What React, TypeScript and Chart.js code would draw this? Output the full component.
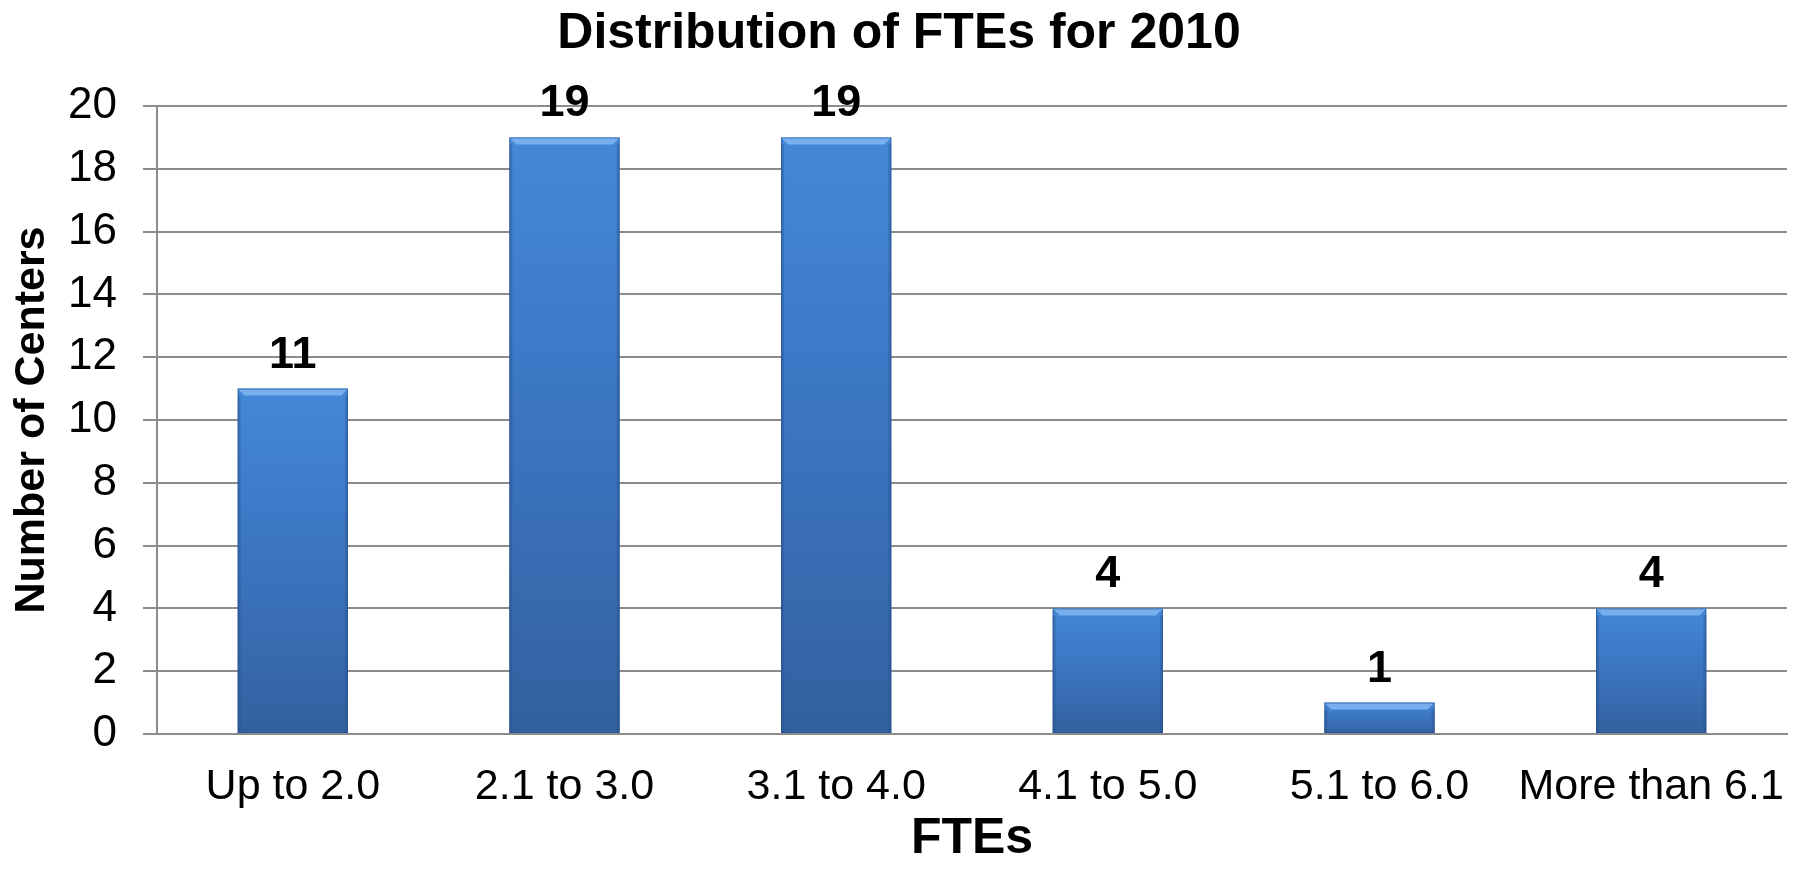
import React, { useEffect, useRef } from "react";
import { Chart, registerables } from "chart.js";

Chart.register(...registerables);

const categories = ["Up to 2.0", "2.1 to 3.0", "3.1 to 4.0", "4.1 to 5.0", "5.1 to 6.0", "More than 6.1"];
const centers = [11, 19, 19, 4, 1, 4];
const yTicks = [0, 2, 4, 6, 8, 10, 12, 14, 16, 18, 20];

const FONT = "'Liberation Sans', Arial, sans-serif";

const barStyle = {
  id: "barStyle",
  afterDatasetsDraw(chart: any) {
    const ctx = chart.ctx;
    const meta = chart.getDatasetMeta(0);
    ctx.save();
    meta.data.forEach((bar: any, i: number) => {
      const { x, y, base, width } = bar.getProps(["x", "y", "base", "width"], true);
      const l = x - width / 2;
      const r = x + width / 2;
      const b = 7;
      // top bevel
      ctx.fillStyle = "rgba(125,180,242,0.9)";
      ctx.beginPath();
      ctx.moveTo(l, y);
      ctx.lineTo(r, y);
      ctx.lineTo(r - b, y + b);
      ctx.lineTo(l + b, y + b);
      ctx.closePath();
      ctx.fill();
      // side edges
      ctx.fillStyle = "rgba(40,80,140,0.35)";
      ctx.fillRect(l, y + b, 3, base - y - b);
      ctx.fillRect(r - 3, y + b, 3, base - y - b);
      // outline
      ctx.strokeStyle = "rgba(40,80,140,0.6)";
      ctx.lineWidth = 1;
      ctx.strokeRect(l + 0.5, y + 0.5, width - 1, base - y - 1);
      // value label
      ctx.fillStyle = "#000";
      ctx.font = `bold 45px ${FONT}`;
      ctx.textAlign = "center";
      ctx.textBaseline = "alphabetic";
      ctx.fillText(String(centers[i]), x, y - 21);
    });
    ctx.restore();
  },
};

export default function App() {
  const ref = useRef<HTMLCanvasElement | null>(null);

  useEffect(() => {
    document.body.style.margin = "0";
    const canvas = ref.current;
    if (!canvas) return;
    const chart = new Chart(canvas, {
      type: "bar",
      data: {
        labels: categories,
        datasets: [
          {
            data: centers,
            backgroundColor: (c: any) => {
              const ch = c.chart;
              const area = ch.chartArea;
              const ys = ch.scales && ch.scales.y;
              if (!area || !ys || c.raw == null) return "#3d77c2";
              const top = ys.getPixelForValue(c.raw);
              const bottom = ys.getPixelForValue(0);
              if (!isFinite(top) || !isFinite(bottom) || bottom - top < 1) return "#3d77c2";
              const g = ch.ctx.createLinearGradient(0, top, 0, bottom);
              g.addColorStop(0, "#4488d8");
              g.addColorStop(0.5, "#3b74c0");
              g.addColorStop(1, "#33619f");
              return g;
            },
            borderWidth: 0,
            barPercentage: 0.406,
            categoryPercentage: 1,
          },
        ],
      },
      options: {
        responsive: true,
        maintainAspectRatio: false,
        animation: false,
        layout: { padding: { left: 0, right: 14, top: 0, bottom: 0 } },
        plugins: {
          legend: { display: false },
          tooltip: { enabled: false },
          title: {
            display: true,
            text: "Distribution of FTEs for 2010",
            color: "#000",
            font: { family: FONT, size: 50, weight: "bold", lineHeight: 1.2 },
            padding: { top: 4, bottom: 42 },
          },
        },
        scales: {
          x: {
            grid: { display: false, drawTicks: false },
            border: { display: true, color: "#8c8c8c", width: 2 },
            ticks: {
              color: "#000",
              font: { family: FONT, size: 43, lineHeight: 1.2 },
              padding: 27,
              maxRotation: 0,
              autoSkip: false,
            },
            title: {
              display: true,
              text: "FTEs",
              color: "#000",
              font: { family: FONT, size: 50, weight: "bold", lineHeight: 1.2 },
              padding: { top: 0, bottom: 0 },
            },
            afterFit: (s: any) => {
              s.height = 135;
            },
          },
          y: {
            min: 0,
            max: 20,
            afterBuildTicks: (s: any) => {
              s.ticks = yTicks.map((v) => ({ value: v }));
            },
            grid: { color: "#8c8c8c", lineWidth: 2, tickLength: 14, drawTicks: true },
            border: { display: true, color: "#8c8c8c", width: 2 },
            ticks: {
              color: "#000",
              font: { family: FONT, size: 44 },
              padding: 26,
            },
            title: {
              display: true,
              text: "Number of Centers",
              color: "#000",
              font: { family: FONT, size: 43, weight: "bold", lineHeight: 1.2 },
              padding: { top: 6, bottom: 0 },
            },
            afterFit: (s: any) => {
              s.width = 157;
            },
          },
        },
      },
      plugins: [barStyle],
    });
    return () => chart.destroy();
  }, []);

  return (
    <div style={{ width: 1812, height: 869, position: "relative" }}>
      <canvas ref={ref} />
    </div>
  );
}
